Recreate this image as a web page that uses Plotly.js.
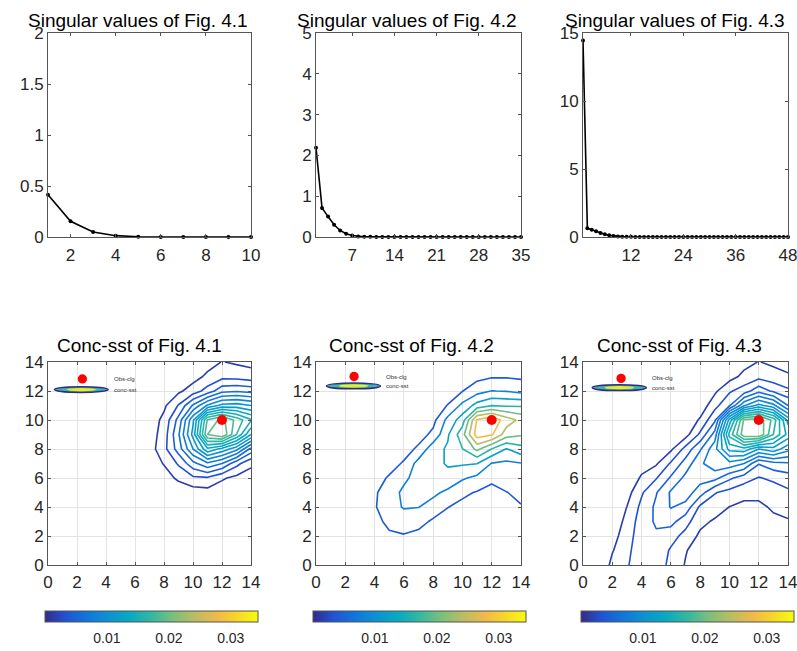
<!DOCTYPE html>
<html>
<head>
<meta charset="utf-8">
<script src="https://cdn.plot.ly/plotly-3.0.1.min.js"></script>
<style>html,body{margin:0;padding:0;background:#fff;}#chart{width:797px;height:651px;}</style>
</head>
<body>
<div id="chart"></div>
<script>
// ---------- singular values ----------
const sv1 = [0.415, 0.154, 0.049, 0.013, 0.003, 0.001, 0.0005, 0.0003, 0.0002, 0.0001];
const sv2 = [2.19, 0.71, 0.50, 0.30, 0.16, 0.08, 0.035, 0.015, 0.007, 0.004, 0.003, 0.002, 0.0015, 0.001, 0.001,
             0.0008, 0.0007, 0.0006, 0.0005, 0.0005, 0.0004, 0.0004, 0.0003, 0.0003, 0.0003, 0.0002, 0.0002,
             0.0002, 0.0002, 0.0001, 0.0001, 0.0001, 0.0001, 0.0001, 0.0001];
const sv3 = [14.44, 0.64, 0.54, 0.42, 0.30, 0.20, 0.12, 0.07, 0.04, 0.025, 0.015, 0.010, 0.007, 0.005, 0.004,
             0.003, 0.0025, 0.002, 0.0018, 0.0016, 0.0014, 0.0012, 0.0011, 0.001, 0.0009, 0.0008, 0.0007,
             0.0007, 0.0006, 0.0006, 0.0005, 0.0005, 0.0004, 0.0004, 0.0004, 0.0003, 0.0003, 0.0003, 0.0003,
             0.0002, 0.0002, 0.0002, 0.0002, 0.0001, 0.0001, 0.0001, 0.0001, 0.0001];
const svTicks1 = [2, 4, 6, 8, 10];
const svTicks2 = [7, 14, 21, 28, 35];
const svTicks3 = [12, 24, 36, 48];

// ---------- concentration grids (rows: y = 0..14, columns: x = 0..14) ----------
const gridX = [0,1,2,3,4,5,6,7,8,9,10,11,12,13,14];
const gridY = [0,1,2,3,4,5,6,7,8,9,10,11,12,13,14];
const conc41 = [
 [0,0,0,0,0,0,0,0,0,0,0,0,0,0,0],
 [0,0,0,0,0,0,0,0,0,0,0,0,0,0,0],
 [0,0,0,0,0,0,0,0,0,0,0,0,0,0,0],
 [0,0,0,0,0,0,0,0,0,0,0,0,0,0,0],
 [0,0,0,0,0,0,0,0,0,0.0001,0.0002,0.0002,0.0002,0.0001,0.0001],
 [0,0,0,0,0,0,0,0,0.0002,0.0005,0.0007,0.0009,0.0006,0.0004,0.0003],
 [0,0,0,0,0,0,0,0.0002,0.0008,0.0018,0.0027,0.0028,0.0017,0.0011,0.0008],
 [0,0,0,0,0,0,0.0001,0.0006,0.0016,0.0032,0.0055,0.0072,0.0060,0.0035,0.0018],
 [0,0,0,0,0,0,0.0002,0.0008,0.0025,0.0052,0.0090,0.0132,0.0115,0.0095,0.0055],
 [0,0,0,0,0,0,0.0002,0.0007,0.0022,0.0058,0.0110,0.0195,0.0210,0.0165,0.0120],
 [0,0,0,0,0,0,0.0001,0.0006,0.0019,0.0050,0.0102,0.0182,0.0200,0.0175,0.0152],
 [0,0,0,0,0,0,0,0.0001,0.0012,0.0031,0.0062,0.0092,0.0110,0.0112,0.0105],
 [0,0,0,0,0,0,0,0,0.0004,0.0012,0.0022,0.0036,0.0055,0.0058,0.0055],
 [0,0,0,0,0,0,0,0,0,0.0003,0.0009,0.0018,0.0025,0.0024,0.0021],
 [0,0,0,0,0,0,0,0,0,0,0.0001,0.0009,0.00155,0.0013,0.0011]
];
const conc42 = [
 [0,0,0,0,0,0,0.0003,0.0002,0.0001,0,0,0,0,0,0],
 [0,0,0,0,0.0006,0.0012,0.0015,0.0010,0.0005,0.0002,0.0001,0.0002,0.0003,0.0005,0.0008],
 [0,0,0,0,0.0018,0.0032,0.0037,0.0028,0.0015,0.0012,0.0010,0.0008,0.0008,0.0012,0.0018],
 [0,0,0,0.0010,0.0025,0.0052,0.0060,0.0055,0.0033,0.0025,0.0018,0.0015,0.0015,0.0020,0.0028],
 [0,0,0,0.0015,0.0036,0.0065,0.0083,0.0081,0.0065,0.0041,0.0030,0.0025,0.0025,0.0028,0.0038],
 [0,0,0,0.0012,0.0034,0.0062,0.0088,0.0092,0.0088,0.0072,0.0048,0.0037,0.0033,0.0039,0.0048],
 [0,0,0,0.0006,0.0022,0.0045,0.0072,0.0095,0.0105,0.0105,0.0085,0.0070,0.0045,0.0055,0.0058],
 [0,0,0,0,0.0008,0.0022,0.0045,0.0095,0.0105,0.0125,0.0125,0.0121,0.0078,0.0072,0.0078],
 [0,0,0,0,0.0002,0.0005,0.0022,0.0048,0.0105,0.0125,0.0159,0.0210,0.0159,0.0118,0.0145],
 [0,0,0,0,0,0,0.0005,0.0022,0.0050,0.0115,0.0185,0.0300,0.0285,0.0220,0.0205],
 [0,0,0,0,0,0,0,0.0008,0.0028,0.0092,0.0140,0.0285,0.0310,0.0260,0.0230],
 [0,0,0,0,0,0,0,0,0.0015,0.0042,0.0090,0.0135,0.0159,0.0155,0.0155],
 [0,0,0,0,0,0,0,0,0.0005,0.0015,0.0039,0.0065,0.0081,0.0078,0.0068],
 [0,0,0,0,0,0,0,0,0,0.0005,0.0015,0.0028,0.0036,0.0036,0.0033],
 [0,0,0,0,0,0,0,0,0,0,0.0005,0.0012,0.0018,0.0020,0.0020]
];
const conc43 = [
 [0,0,0.0019,0.0028,0.0042,0.0040,0.0025,0.0014,0.0006,0.0002,0,0,0,0,0],
 [0,0,0.0014,0.0025,0.0042,0.0041,0.0028,0.0016,0.0008,0.0005,0.0002,0.0001,0.0001,0.0002,0.0003],
 [0,0,0.0010,0.0022,0.0040,0.0043,0.0036,0.0025,0.0012,0.0009,0.0005,0.0004,0.0004,0.0007,0.0009],
 [0,0,0.0006,0.0019,0.0038,0.0047,0.0050,0.0036,0.0019,0.0013,0.0009,0.0007,0.0008,0.0012,0.0014],
 [0,0,0.0003,0.00152,0.0034,0.0048,0.0061,0.0055,0.0027,0.0022,0.00148,0.0012,0.0012,0.0017,0.0019],
 [0,0,0,0.0009,0.0028,0.0044,0.0062,0.0068,0.0052,0.0031,0.0025,0.0019,0.0019,0.0022,0.0027],
 [0,0,0,0.0004,0.0017,0.0029,0.0047,0.0064,0.0066,0.0065,0.0048,0.0037,0.0029,0.0033,0.0038],
 [0,0,0,0,0.0009,0.0013,0.0032,0.0051,0.0072,0.0085,0.0085,0.0075,0.0046,0.0055,0.0058],
 [0,0,0,0,0.0003,0.0005,0.0012,0.0035,0.0058,0.0085,0.0125,0.0130,0.0105,0.0115,0.0095],
 [0,0,0,0,0,0.0001,0.0004,0.0009,0.0033,0.0066,0.0155,0.0205,0.0210,0.0165,0.0130],
 [0,0,0,0,0,0,0,0.0003,0.0017,0.0042,0.0125,0.0198,0.0205,0.0175,0.0115],
 [0,0,0,0,0,0,0,0,0.0005,0.0025,0.0043,0.0088,0.0110,0.0095,0.0060],
 [0,0,0,0,0,0,0,0,0.0001,0.0012,0.0028,0.0037,0.0055,0.0042,0.0033],
 [0,0,0,0,0,0,0,0,0,0.0004,0.0009,0.0019,0.0025,0.0021,0.0017],
 [0,0,0,0,0,0,0,0,0,0,0.0003,0.0010,0.00155,0.0012,0.0009]
];
const obsX = [12];
const obsY = [10];
const cbRange = [0, 0.0344];
const cbTicks = [0.01, 0.02, 0.03];
const cbTickText = ['0.01', '0.02', '0.03'];
const topTitles = ['Singular values of Fig. 4.1', 'Singular values of Fig. 4.2', 'Singular values of Fig. 4.3'];
const botTitles = ['Conc-sst of Fig. 4.1', 'Conc-sst of Fig. 4.2', 'Conc-sst of Fig. 4.3'];
const legendNames = ['Obs-clg', 'conc-sst'];

// ---------- styling ----------
const W = 797, H = 651;
const FONT = 'Liberation Sans, Arial, Helvetica, sans-serif';
const parulaStops = [
 [0/63,[53,42,135]],[6/63,[32,83,212]],[13/63,[16,121,218]],[19/63,[12,147,210]],
 [25/63,[7,169,194]],[32/63,[56,185,158]],[38/63,[124,191,123]],[44/63,[183,189,100]],
 [51/63,[241,185,74]],[57/63,[247,216,38]],[63/63,[249,251,14]]
];
function parulaAt(f) {
  f = Math.max(0, Math.min(1, f));
  for (let i = 1; i < parulaStops.length; i++) {
    const a = parulaStops[i-1], b = parulaStops[i];
    if (f <= b[0]) {
      const t = (f - a[0]) / (b[0] - a[0]);
      const c = a[1].map((v, j) => Math.round(v + t * (b[1][j] - v)));
      return 'rgb(' + c.join(',') + ')';
    }
  }
  return 'rgb(249,251,14)';
}
const parula = parulaStops.map(s => [s[0], 'rgb(' + s[1].join(',') + ')']);
// colour scale restricted to the part of parula that the levels [lo, hi] cover
function subScale(lo, hi) {
  const a = (lo - cbRange[0]) / (cbRange[1] - cbRange[0]);
  const b = (hi - cbRange[0]) / (cbRange[1] - cbRange[0]);
  const out = [];
  for (let i = 0; i <= 40; i++) { const t = i / 40; out.push([t, parulaAt(a + t * (b - a))]); }
  return out;
}
const px = v => v / W;
const py = v => 1 - v / H;
const colsPx = [[48,251],[316,521],[583,788]];
const topRowPx = [33,237];
const botRowPx = [362,565];
const LINEC = '#555555', TXTC = '#262626';

function axis(domain, range, extra) {
  return Object.assign({
    domain: domain, range: range, showline: true, linecolor: LINEC, linewidth: 1, mirror: 'allticks',
    ticks: 'inside', ticklen: 3, tickcolor: LINEC, zeroline: false, showgrid: false,
    ticklabeloverflow: 'allow',
    tickfont: {family: FONT, size: 17, color: TXTC}, fixedrange: true
  }, extra || {});
}

const layout = {
  width: W, height: H, margin: {l:0, r:0, t:0, b:0}, paper_bgcolor: '#fff', plot_bgcolor: '#fff',
  showlegend: false, font: {family: FONT, color: TXTC}, annotations: [], shapes: []
};
const svData = [sv1, sv2, sv3];
const svTicks = [svTicks1, svTicks2, svTicks3];
const svYr = [[0,2],[0,5],[0,15]];
const svYt = [[0,0.5,1,1.5,2],[0,1,2,3,4,5],[0,5,10,15]];
const traces = [];
for (let i = 0; i < 3; i++) {
  const k = i + 1, s = k === 1 ? '' : String(k);
  layout['xaxis' + s] = axis([px(colsPx[i][0]), px(colsPx[i][1])], [1, svData[i].length],
    {anchor: 'y' + s, tickvals: svTicks[i], ticklabelstandoff: 3});
  layout['yaxis' + s] = axis([py(topRowPx[1]), py(topRowPx[0])], svYr[i], {anchor: 'x' + s, tickvals: svYt[i]});
  traces.push({
    type: 'scatter', mode: 'lines+markers', xaxis: 'x' + s, yaxis: 'y' + s,
    x: svData[i].map((_, j) => j + 1), y: svData[i], cliponaxis: false,
    line: {color: '#000', width: 1.6}, marker: {color: '#000', size: 4}, hoverinfo: 'skip'
  });
}
const concs = [conc41, conc42, conc43];
const levels = [[0.0015, 0.021, 0.0015], [0.004, 0.028, 0.004], [0.0015, 0.021, 0.0015]];
const titleCx = [[137.5, 139.5], [407, 411], [675, 679.5]];
const cbCenters = [151.5, 419.5, 687.5];
const legDot = [[2.37, 12.83], [2.6, 13.0], [2.6, 12.87]];
const legEll = [[2.3, 12.1], [2.56, 12.35], [2.48, 12.23]];
for (let i = 0; i < 3; i++) {
  const k = i + 4, s = String(k);
  layout['xaxis' + s] = axis([px(colsPx[i][0]), px(colsPx[i][1])], [0, 14],
    {anchor: 'y' + s, dtick: 2, tick0: 0, showgrid: true, gridcolor: '#e3e3e3', gridwidth: 1, ticklabelstandoff: 2});
  layout['yaxis' + s] = axis([py(botRowPx[1]), py(botRowPx[0])], [0, 14],
    {anchor: 'x' + s, dtick: 2, tick0: 0, showgrid: true, gridcolor: '#e3e3e3', gridwidth: 1});
  const lv = levels[i];
  const nLev = Math.floor((lv[1] - lv[0]) / lv[2] + 1e-6);
  const lastLev = lv[0] + nLev * lv[2];
  traces.push({
    type: 'contour', xaxis: 'x' + s, yaxis: 'y' + s, x: gridX, y: gridY, z: concs[i],
    colorscale: subScale(lv[0], lastLev), showscale: false,
    contours: {coloring: 'lines', start: lv[0], end: lastLev + lv[2] * 1e-4, size: lv[2], showlabels: false},
    line: {width: 1.6, smoothing: 0}, hoverinfo: 'skip'
  });
  traces.push({
    type: 'scatter', mode: 'markers', xaxis: 'x' + s, yaxis: 'y' + s, x: obsX, y: obsY,
    marker: {color: 'rgb(255,0,0)', size: 10}, hoverinfo: 'skip', cliponaxis: false
  });
  // colorbar carrier (markers outside view)
  traces.push({
    type: 'scatter', mode: 'markers', xaxis: 'x' + s, yaxis: 'y' + s, x: [-50, -50], y: [-50, -50],
    hoverinfo: 'skip',
    marker: {size: 1, color: cbRange, colorscale: parula, cmin: cbRange[0], cmax: cbRange[1], showscale: true,
      colorbar: {orientation: 'h', x: px(cbCenters[i]), xanchor: 'center', y: py(611), yanchor: 'top',
        len: 213 / W, lenmode: 'fraction', thickness: 11, thicknessmode: 'pixels', xpad: 0, ypad: 0,
        outlinecolor: LINEC, outlinewidth: 1, ticks: 'outside', ticklen: 4, tickcolor: 'rgba(0,0,0,0)',
        tickvals: cbTicks, ticktext: cbTickText, tickfont: {family: FONT, size: 14, color: TXTC}}}
  });
  // legend (inside axes, upper left)
  const xr = 'x' + s, yr = 'y' + s;
  const d = legDot[i], e = legEll[i];
  layout.shapes.push({type: 'circle', xref: xr, yref: yr, x0: e[0]-1.85, x1: e[0]+1.85, y0: e[1]-0.2, y1: e[1]+0.2,
    line: {color: 'rgb(53,42,135)', width: 1.5}, fillcolor: 'rgb(56,185,170)', layer: 'above'});
  layout.shapes.push({type: 'circle', xref: xr, yref: yr, x0: e[0]-1.0, x1: e[0]+1.0, y0: e[1]-0.11, y1: e[1]+0.11,
    line: {width: 0}, fillcolor: 'rgb(240,235,30)', layer: 'above'});
  layout.shapes.push({type: 'circle', xref: xr, yref: yr, x0: d[0]-0.32, x1: d[0]+0.32, y0: d[1]-0.32, y1: d[1]+0.32,
    line: {width: 0}, fillcolor: 'rgb(255,0,0)', layer: 'above'});
  layout.annotations.push({xref: xr, yref: yr, x: e[0]+2.1, y: d[1], text: legendNames[0], showarrow: false,
    xanchor: 'left', yanchor: 'middle', font: {family: FONT, size: 6, color: '#333'}});
  layout.annotations.push({xref: xr, yref: yr, x: e[0]+2.1, y: e[1], text: legendNames[1], showarrow: false,
    xanchor: 'left', yanchor: 'middle', font: {family: FONT, size: 6, color: '#333'}});
}
for (let i = 0; i < 3; i++) {
  layout.annotations.push({xref: 'paper', yref: 'paper', x: px(titleCx[i][0]), y: py(20), text: topTitles[i],
    showarrow: false, xanchor: 'center', yanchor: 'middle', font: {family: FONT, size: 19, color: '#000'}});
  layout.annotations.push({xref: 'paper', yref: 'paper', x: px(titleCx[i][1]), y: py(346), text: botTitles[i],
    showarrow: false, xanchor: 'center', yanchor: 'middle', font: {family: FONT, size: 19, color: '#000'}});
}
Plotly.newPlot('chart', traces, layout, {displayModeBar: false, staticPlot: true});
</script>
</body>
</html>
